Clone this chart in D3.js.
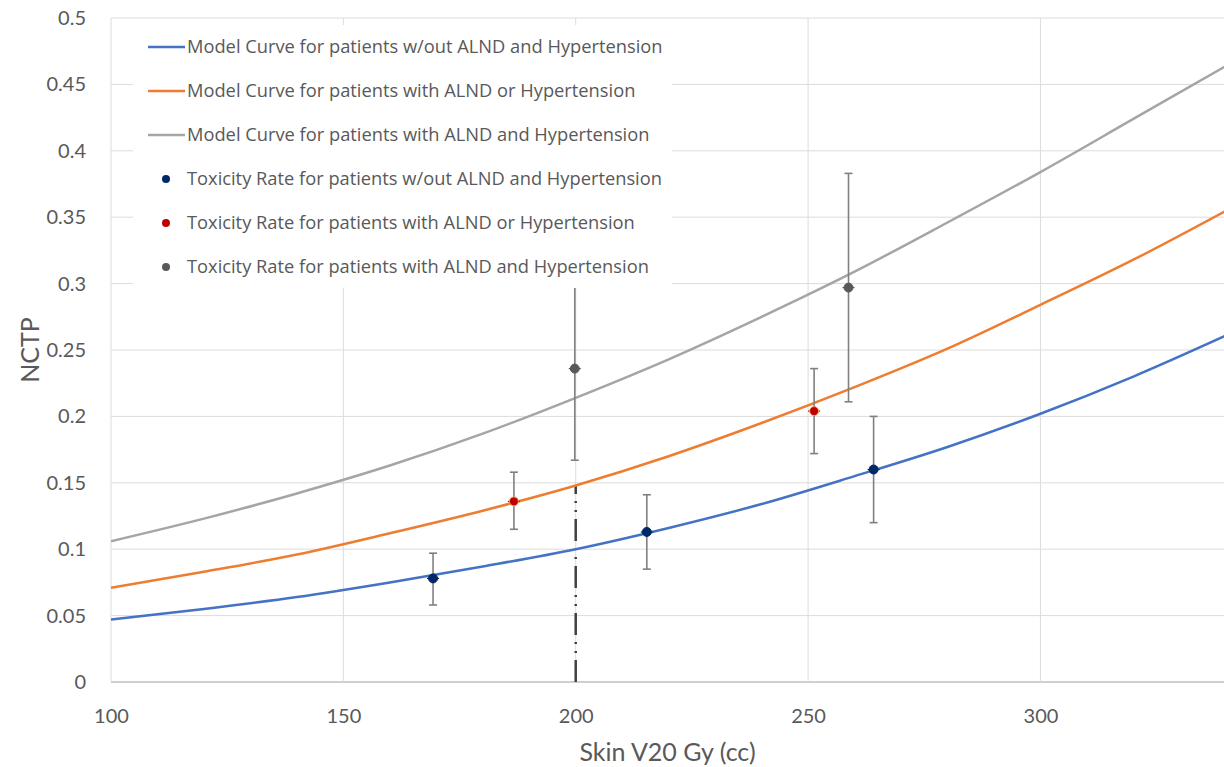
<!DOCTYPE html>
<html>
<head>
<meta charset="utf-8">
<script src="https://cdn.jsdelivr.net/npm/d3@7"></script>
<style>
  body { margin: 0; background: #fff; }
  svg { display: block; }
</style>
</head>
<body>
<script>
var curveX = [100, 120, 140, 160, 180, 200, 220, 240, 260, 280, 300, 320, 340];
// model curves (NCTP)
var curveNone = [0.047, 0.055, 0.064, 0.075, 0.087, 0.100, 0.116, 0.134, 0.155, 0.177, 0.202, 0.230, 0.261];
var curveOne  = [0.071, 0.083, 0.096, 0.112, 0.129, 0.148, 0.170, 0.195, 0.222, 0.251, 0.284, 0.318, 0.355];
var curveBoth = [0.106, 0.123, 0.142, 0.163, 0.187, 0.214, 0.243, 0.275, 0.309, 0.346, 0.384, 0.424, 0.464];

// observed toxicity rates with error bars
var ptNoneX = [169.3, 215.3, 264.1];
var ptNoneY = [0.078, 0.113, 0.160];
var ptNoneLo = [0.058, 0.085, 0.120];
var ptNoneHi = [0.097, 0.141, 0.200];

var ptOneX = [186.7, 251.3];
var ptOneY = [0.136, 0.204];
var ptOneLo = [0.115, 0.172];
var ptOneHi = [0.158, 0.236];

var ptBothX = [199.8, 258.7];
var ptBothY = [0.236, 0.297];
var ptBothLo = [0.167, 0.211];
var ptBothHi = [0.320, 0.383];

// threshold line
var cutX = 200;
var cutY = 0.148;

var yTicks = [0, 0.05, 0.1, 0.15, 0.2, 0.25, 0.3, 0.35, 0.4, 0.45, 0.5];
var xTicks = [100, 150, 200, 250, 300];

var legendLabels = [
  "Model Curve for patients w/out ALND and Hypertension",
  "Model Curve for patients with ALND or Hypertension",
  "Model Curve for patients with ALND and Hypertension",
  "Toxicity Rate for patients w/out ALND and Hypertension",
  "Toxicity Rate for patients with ALND or Hypertension",
  "Toxicity Rate for patients with ALND and Hypertension"
];

var width = 1224, height = 767;
var margin = {top: 18, right: 0, bottom: 85, left: 111};

var svg = d3.select("body").append("svg")
  .attr("width", width)
  .attr("height", height);

var x = d3.scaleLinear().domain([100, 339.5]).range([margin.left, width - margin.right]);
var y = d3.scaleLinear().domain([0, 0.5]).range([height - margin.bottom, margin.top]);

var tickFont = "Lato, 'Open Sans', sans-serif";

// grid
var grid = svg.append("g");
grid.selectAll("line.h").data(yTicks).enter().append("line")
  .attr("x1", x(100)).attr("x2", width)
  .attr("y1", function(d) { return y(d); }).attr("y2", function(d) { return y(d); })
  .attr("stroke", function(d) { return d == 0 ? "#bfbfbf" : "#dcdcdc"; })
  .attr("stroke-width", function(d) { return d == 0 ? 1.5 : 1; });
grid.selectAll("line.v").data(xTicks).enter().append("line")
  .attr("y1", y(0)).attr("y2", y(0.5))
  .attr("x1", function(d) { return x(d); }).attr("x2", function(d) { return x(d); })
  .attr("stroke", "#dcdcdc").attr("stroke-width", 1);

// axes (labels only, Excel style)
var yAxis = svg.append("g")
  .attr("transform", "translate(" + (margin.left - 22) + ",0)")
  .call(d3.axisLeft(y).tickValues(yTicks).tickSize(0).tickFormat(function(d) { return String(+d.toFixed(2)); }));
var xAxis = svg.append("g")
  .attr("transform", "translate(0," + (y(0) + 24) + ")")
  .call(d3.axisBottom(x).tickValues(xTicks).tickSize(0));
[yAxis, xAxis].forEach(function(a) {
  a.select(".domain").remove();
  a.selectAll("text").attr("font-family", tickFont).attr("font-size", 20).attr("fill", "#595959");
});

svg.append("text")
  .attr("x", (x(100) + width) / 2).attr("y", 761)
  .attr("text-anchor", "middle")
  .attr("font-family", tickFont).attr("font-size", 25).attr("fill", "#595959")
  .text("Skin V20 Gy (cc)");
svg.append("text")
  .attr("transform", "translate(39," + ((y(0) + y(0.5)) / 2) + ") rotate(-90)")
  .attr("text-anchor", "middle")
  .attr("font-family", tickFont).attr("font-size", 25).attr("fill", "#595959")
  .text("NCTP");

svg.append("clipPath").attr("id", "plot").append("rect")
  .attr("x", x(100)).attr("y", y(0.5)).attr("width", width - x(100)).attr("height", y(0) - y(0.5));

// threshold dash-dot line
svg.append("line")
  .attr("x1", x(cutX)).attr("x2", x(cutX))
  .attr("y1", y(0)).attr("y2", y(cutY))
  .attr("stroke", "#404040").attr("stroke-width", 2.5)
  .attr("stroke-dasharray", "22,7,2,7,2,7");

// model curves
var line = d3.line()
  .x(function(d) { return x(d[0]); })
  .y(function(d) { return y(d[1]); })
  .curve(d3.curveMonotoneX);
var curves = [
  {v: curveNone, color: "#4472C4"},
  {v: curveOne, color: "#ED7D31"},
  {v: curveBoth, color: "#A5A5A5"}
];
svg.append("g").attr("clip-path", "url(#plot)")
  .selectAll("path").data(curves).enter().append("path")
  .attr("d", function(c) { return line(curveX.map(function(xv, i) { return [xv, c.v[i]]; })); })
  .attr("fill", "none")
  .attr("stroke", function(c) { return c.color; })
  .attr("stroke-width", 2.5);

// points + error bars
var groups = [
  {xs: ptNoneX, ys: ptNoneY, lo: ptNoneLo, hi: ptNoneHi, fill: "#002868"},
  {xs: ptOneX, ys: ptOneY, lo: ptOneLo, hi: ptOneHi, fill: "#C00000", stroke: "#F4A460"},
  {xs: ptBothX, ys: ptBothY, lo: ptBothLo, hi: ptBothHi, fill: "#595959"}
];
var pts = [];
groups.forEach(function(g) {
  g.xs.forEach(function(xv, i) {
    pts.push({x: xv, y: g.ys[i], lo: g.lo[i], hi: g.hi[i], fill: g.fill, stroke: g.stroke});
  });
});
var eb = svg.append("g").attr("stroke", "#808080").attr("stroke-width", 1.6);
pts.forEach(function(p) {
  eb.append("line").attr("x1", x(p.x)).attr("x2", x(p.x)).attr("y1", y(p.lo)).attr("y2", y(p.hi));
  eb.append("line").attr("x1", x(p.x) - 4).attr("x2", x(p.x) + 4).attr("y1", y(p.lo)).attr("y2", y(p.lo));
  eb.append("line").attr("x1", x(p.x) - 4).attr("x2", x(p.x) + 4).attr("y1", y(p.hi)).attr("y2", y(p.hi));
  // tiny horizontal bar through the marker
  eb.append("line").attr("x1", x(p.x) - 6).attr("x2", x(p.x) + 6).attr("y1", y(p.y)).attr("y2", y(p.y))
    .attr("stroke", p.fill).attr("stroke-width", 1.2);
});
svg.append("g").selectAll("circle").data(pts).enter().append("circle")
  .attr("cx", function(d) { return x(d.x); })
  .attr("cy", function(d) { return y(d.y); })
  .attr("r", 4.5)
  .attr("fill", function(d) { return d.fill; })
  .attr("stroke", function(d) { return d.stroke || d.fill; })
  .attr("stroke-width", 1);

// legend
var leg = svg.append("g");
leg.append("rect")
  .attr("x", 133).attr("y", 25).attr("width", 539).attr("height", 263)
  .attr("fill", "#fff");
var legColors = ["#4472C4", "#ED7D31", "#A5A5A5", "#002868", "#C00000", "#595959"];
var rowY = [47, 91, 135, 179, 223, 267];
legendLabels.forEach(function(t, i) {
  if (i < 3) {
    leg.append("line").attr("x1", 148).attr("x2", 185).attr("y1", rowY[i]).attr("y2", rowY[i])
      .attr("stroke", legColors[i]).attr("stroke-width", 2.5);
  } else {
    leg.append("circle").attr("cx", 166).attr("cy", rowY[i]).attr("r", 4)
      .attr("fill", legColors[i]);
  }
  leg.append("text")
    .attr("x", 187).attr("y", rowY[i]).attr("dy", "0.35em")
    .attr("font-family", "'Open Sans', sans-serif").attr("font-size", 18.3).attr("fill", "#595959")
    .text(t);
});
</script>
</body>
</html>
